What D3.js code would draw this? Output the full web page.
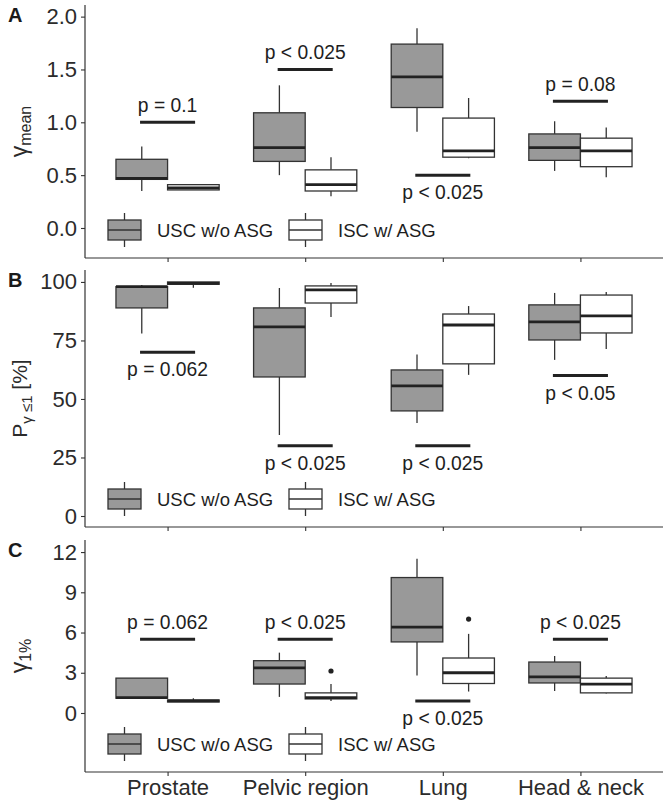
<!DOCTYPE html>
<html><head><meta charset="utf-8">
<script src="https://cdn.jsdelivr.net/npm/d3@7"></script>
<style>
body{margin:0;background:#fff}
svg{display:block}
text{font-family:"Liberation Sans",Arial,Helvetica,sans-serif}
</style>
</head><body><svg id="chart" width="669" height="803"></svg>
<script>
// ---------------- data ----------------
const categories = ["Prostate", "Pelvic region", "Lung", "Head & neck"];
const seriesNames = ["USC w/o ASG", "ISC w/ ASG"];
// box stats per category: [lower whisker, Q1, median, Q3, upper whisker]
const gammaMeanUSC = [[0.35,0.46,0.47,0.65,0.77],[0.50,0.63,0.76,1.09,1.35],[0.91,1.14,1.43,1.74,1.89],[0.54,0.64,0.76,0.89,1.01]];
const gammaMeanISC = [[0.36,0.36,0.38,0.41,0.41],[0.30,0.35,0.41,0.55,0.67],[0.66,0.67,0.73,1.04,1.23],[0.48,0.58,0.73,0.85,0.95]];
const pGammaUSC = [[78,88.9,98,98,98.7],[34.6,59.4,80.8,88.9,97.4],[39.7,44.9,55.6,62.4,69],[66.7,75.2,82.9,90.2,95.3]];
const pGammaISC = [[97.5,99,99.4,100,100],[85,91,96.6,98.3,99.5],[60.3,65,81.6,86.3,89.7],[71.4,78.2,85.5,94.4,95.7]];
const gamma1USC = [[1.1,1.1,1.15,2.6,2.6],[1.2,2.16,3.36,3.9,4.5],[2.8,5.3,6.4,10.1,11.5],[1.64,2.24,2.7,3.8,4.25]];
const gamma1ISC = [[0.82,0.82,0.9,0.97,1.1],[0.9,1.05,1.15,1.5,2.16],[1.6,2.2,3.0,4.1,5.9],[1.45,1.5,2.16,2.6,2.76]];
const gamma1OutliersISC = [[1, 3.13], [2, 7.0]]; // [category index, value]
// significance annotations
const gammaMeanSigY = [1.0, 1.5, 0.5, 1.2];
const gammaMeanSigText = ["p = 0.1", "p < 0.025", "p < 0.025", "p = 0.08"];
const gammaMeanSigSide = ["above", "above", "below", "above"];
const pGammaSigY = [70, 30, 30, 60];
const pGammaSigText = ["p = 0.062", "p < 0.025", "p < 0.025", "p < 0.05"];
const pGammaSigSide = ["below", "below", "below", "below"];
const gamma1SigY = [5.5, 5.5, 0.9, 5.5];
const gamma1SigText = ["p = 0.062", "p < 0.025", "p < 0.025", "p < 0.025"];
const gamma1SigSide = ["above", "above", "below", "above"];
// tick labels
const gammaMeanTicks = [0, 0.5, 1.0, 1.5, 2.0];
const pGammaTicks = [0, 25, 50, 75, 100];
const gamma1Ticks = [0, 3, 6, 9, 12];

// ---------------- layout ----------------
const svg = d3.select("#chart");
const left = 85, right = 663;
const x = d3.scaleLinear().domain([0.4, 4.6]).range([left, right]);
const boxW = 0.375;
const fills = ["#999999", "#ffffff"];
const ink = "#333333";
const font = "Liberation Sans, Arial, sans-serif";

const panels = [
  {label: "A", top: 5, bottom: 258, domain: [-0.284, 2.11], ticks: gammaMeanTicks, fmt: d3.format(".1f"),
   series: [gammaMeanUSC, gammaMeanISC], outliers: [[], []],
   sigY: gammaMeanSigY, sigText: gammaMeanSigText, sigSide: gammaMeanSigSide},
  {label: "B", top: 270, bottom: 527, domain: [-4.7, 105.1], ticks: pGammaTicks, fmt: d3.format("d"),
   series: [pGammaUSC, pGammaISC], outliers: [[], []],
   sigY: pGammaSigY, sigText: pGammaSigText, sigSide: pGammaSigSide},
  {label: "C", top: 540, bottom: 772, domain: [-4.4, 12.9], ticks: gamma1Ticks, fmt: d3.format("d"),
   series: [gamma1USC, gamma1ISC], outliers: [[], gamma1OutliersISC],
   sigY: gamma1SigY, sigText: gamma1SigText, sigSide: gamma1SigSide}
];

panels.forEach((p, pi) => {
  const y = d3.scaleLinear().domain(p.domain).range([p.bottom, p.top]);
  const g = svg.append("g");

  // y axis
  const ya = d3.axisLeft(y).tickValues(p.ticks).tickFormat(p.fmt).tickSize(4).tickPadding(4);
  const yg = g.append("g").attr("transform", `translate(${left},0)`).call(ya);
  yg.select(".domain").remove();
  yg.selectAll(".tick line").attr("stroke", ink).attr("stroke-width", 1.1);
  yg.selectAll(".tick text").attr("fill", "#2b2b2b").attr("font-size", 22).attr("font-family", font);
  g.append("line").attr("x1", left).attr("x2", left).attr("y1", p.top).attr("y2", p.bottom)
    .attr("stroke", ink).attr("stroke-width", 1.2);

  // x axis
  const xa = d3.axisBottom(x).tickValues([1,2,3,4]).tickSize(4).tickPadding(3)
    .tickFormat(pi === 2 ? (d => categories[d-1]) : (() => ""));
  const xg = g.append("g").attr("transform", `translate(0,${p.bottom})`).call(xa);
  xg.select(".domain").remove();
  xg.selectAll(".tick line").attr("stroke", ink).attr("stroke-width", 1.1);
  xg.selectAll(".tick text").attr("fill", "#2b2b2b").attr("font-size", 22).attr("font-family", font)
    .attr("dy", null).attr("y", 23);
  g.append("line").attr("x1", left).attr("x2", right).attr("y1", p.bottom).attr("y2", p.bottom)
    .attr("stroke", ink).attr("stroke-width", 1.2);

  // boxes
  p.series.forEach((ser, si) => {
    ser.forEach((s, ci) => {
      const c = ci + 1;
      const x0 = c + (si === 0 ? -boxW : 0), x1 = x0 + boxW, xm = (x0 + x1) / 2;
      const bg = g.append("g");
      bg.append("line").attr("x1", x(xm)).attr("x2", x(xm)).attr("y1", y(s[3])).attr("y2", y(s[4]))
        .attr("stroke", ink).attr("stroke-width", 1.3);
      bg.append("line").attr("x1", x(xm)).attr("x2", x(xm)).attr("y1", y(s[0])).attr("y2", y(s[1]))
        .attr("stroke", ink).attr("stroke-width", 1.3);
      bg.append("rect").attr("x", x(x0)).attr("width", x(x1) - x(x0))
        .attr("y", y(s[3])).attr("height", Math.max(0.5, y(s[1]) - y(s[3])))
        .attr("fill", fills[si]).attr("stroke", ink).attr("stroke-width", 1.3);
      bg.append("line").attr("x1", x(x0)).attr("x2", x(x1)).attr("y1", y(s[2])).attr("y2", y(s[2]))
        .attr("stroke", "#222").attr("stroke-width", 2.8);
    });
    p.outliers[si].forEach(o => {
      const c = o[0] + 1;
      const xm = c + (si === 0 ? -boxW / 2 : boxW / 2);
      g.append("circle").attr("cx", x(xm)).attr("cy", y(o[1])).attr("r", 2.6).attr("fill", "#222");
    });
  });

  // significance bars
  p.sigY.forEach((v, ci) => {
    const c = ci + 1;
    g.append("line").attr("x1", x(c - 0.2)).attr("x2", x(c + 0.2)).attr("y1", y(v)).attr("y2", y(v))
      .attr("stroke", "#222").attr("stroke-width", 3);
    g.append("text").attr("x", x(c)).attr("y", y(v) + (p.sigSide[ci] === "above" ? -10 : 24))
      .attr("text-anchor", "middle").attr("font-size", 19.3).attr("fill", "#1e1e1e").text(p.sigText[ci]);
  });

  // legend
  const ly = p.bottom - 28;
  const keyX = [108, 289], textX = [157, 338];
  seriesNames.forEach((name, si) => {
    const kx = keyX[si], kw = 33, km = kx + kw / 2;
    g.append("line").attr("x1", km).attr("x2", km).attr("y1", ly - 17).attr("y2", ly + 17)
      .attr("stroke", ink).attr("stroke-width", 1.3);
    g.append("rect").attr("x", kx).attr("y", ly - 10).attr("width", kw).attr("height", 20)
      .attr("fill", fills[si]).attr("stroke", ink).attr("stroke-width", 1.3);
    g.append("line").attr("x1", kx).attr("x2", kx + kw).attr("y1", ly).attr("y2", ly)
      .attr("stroke", ink).attr("stroke-width", 1.3);
    g.append("text").attr("x", textX[si]).attr("y", ly + 6.5).attr("font-size", 18.5)
      .attr("fill", "#1e1e1e").text(name);
  });

  // panel letter
  g.append("text").attr("x", 8).attr("y", p.top + 17).attr("font-size", 20).attr("font-weight", "bold")
    .attr("fill", "#1a1a1a").text(p.label);

  // y title
  const cy = (p.top + p.bottom) / 2;
  const t = g.append("text").attr("transform", `translate(27,${cy}) rotate(-90)`)
    .attr("text-anchor", "middle").attr("fill", "#2b2b2b").attr("font-size", 21);
  if (pi === 0) {
    t.append("tspan").attr("font-size", 23).text("γ");
    t.append("tspan").attr("font-size", 16).attr("dy", 4).text("mean");
  } else if (pi === 1) {
    t.append("tspan").text("P");
    t.append("tspan").attr("font-size", 15).attr("dy", 5).text("γ ≤1");
    t.append("tspan").attr("dy", -5).text(" [%]");
  } else {
    t.append("tspan").attr("font-size", 23).text("γ");
    t.append("tspan").attr("font-size", 16).attr("dy", 4).text("1%");
  }
});
</script>
</body></html>
